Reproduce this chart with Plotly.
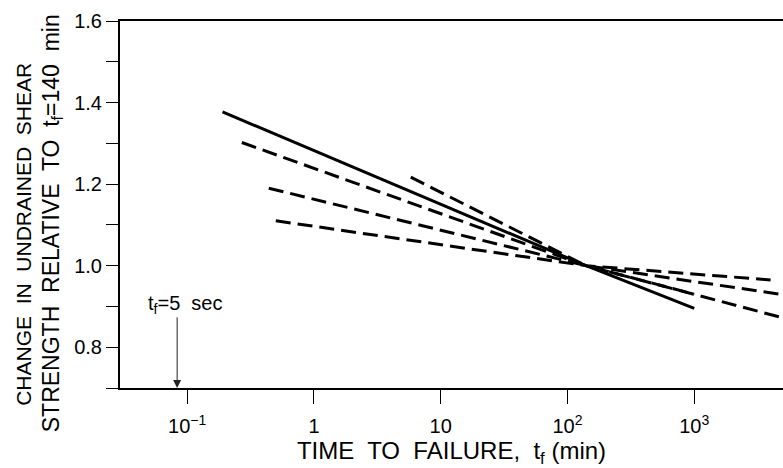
import math
import plotly.graph_objects as go

# ---- data (time to failure in minutes, normalized strength) ----
solid_x = [0.19, 140, 1000]
solid_y = [1.377, 1.0, 0.895]

dash1_x = [0.27, 140, 5000]
dash1_y = [1.302, 1.0, 0.872]

dash2_x = [0.44, 140, 5000]
dash2_y = [1.19, 1.0, 0.929]

dash3_x = [0.5, 140, 4000]
dash3_y = [1.11, 1.0, 0.965]

dash4_x = [5.8, 140, 1000]
dash4_y = [1.217, 1.0, 0.93]

x_tickvals = [0.1, 1, 10, 100, 1000]
x_ticktext = ["10<sup>\u22121</sup>", "1", "10", "10<sup>2</sup>", "10<sup>3</sup>"]
y_tickvals = [0.7, 0.8, 0.9, 1.0, 1.1, 1.2, 1.3, 1.4, 1.5, 1.6]
y_ticktext = ["", "0.8", "", "1.0", "", "1.2", "", "1.4", "", "1.6"]

T_MARK = 5 / 60  # 5 sec in minutes

FONT = "Liberation Sans Narrow, Liberation Sans, Arial, sans-serif"
NB = "\u00a0"

fig = go.Figure()
fig.add_trace(go.Scatter(x=solid_x, y=solid_y, mode="lines",
                         line=dict(color="black", width=3), showlegend=False))
for xs, ys in [(dash1_x, dash1_y), (dash2_x, dash2_y), (dash3_x, dash3_y), (dash4_x, dash4_y)]:
    fig.add_trace(go.Scatter(x=xs, y=ys, mode="lines",
                             line=dict(color="black", width=3, dash="15px,7px"),
                             showlegend=False))

fig.update_layout(
    width=783, height=468,
    margin=dict(l=120, r=0, t=21, b=80),
    paper_bgcolor="white", plot_bgcolor="white",
    font=dict(family=FONT, color="black", size=19),
    xaxis=dict(
        type="log", range=[-1.53, 3.70],
        tickvals=x_tickvals, ticktext=x_ticktext,
        ticks="outside", ticklen=14, tickwidth=1, tickcolor="black",
        showline=True, linecolor="black", linewidth=2, mirror=True,
        showgrid=False, zeroline=False,
        tickfont=dict(size=20, family=FONT),
        ticklabelstandoff=5,
        title=dict(text="TIME" + NB + " TO" + NB + " FAILURE," + NB + " t<sub>f</sub>" + NB + "(min)",
                   font=dict(size=24, family=FONT), standoff=4),
    ),
    yaxis=dict(
        range=[0.7, 1.6],
        tickvals=y_tickvals, ticktext=y_ticktext,
        ticks="outside", ticklen=12, tickwidth=1, tickcolor="black",
        showline=True, linecolor="black", linewidth=2, mirror=False,
        showgrid=False, zeroline=False,
        tickfont=dict(size=20, family=FONT),
    ),
)

fig.add_annotation(
    xref="paper", yref="paper", x=-0.1448, y=0.42,
    text="CHANGE" + NB + " IN" + NB + " UNDRAINED" + NB + " SHEAR",
    textangle=-90, showarrow=False, xanchor="center", yanchor="middle",
    font=dict(size=21, family=FONT),
)
fig.add_annotation(
    xref="paper", yref="paper", x=-0.102, y=0.45,
    text="STRENGTH" + NB + " RELATIVE" + NB + " TO" + NB + " t<sub>f</sub>=140" + NB + " min",
    textangle=-90, showarrow=False, xanchor="center", yanchor="middle",
    font=dict(size=23, family=FONT),
)

# t_f = 5 sec marker
fig.add_annotation(
    x=math.log10(T_MARK), y=0.7, xref="x", yref="y",
    ax=math.log10(T_MARK), ay=0.877, axref="x", ayref="y",
    text="", showarrow=True, arrowhead=2, arrowsize=1.6, arrowwidth=1,
    arrowcolor="#222",
)
fig.add_annotation(
    x=math.log10(T_MARK), y=0.905, xref="x", yref="y",
    text="t<sub>f</sub>=5" + NB + " sec", showarrow=False,
    xanchor="center", yanchor="middle", xshift=8,
    font=dict(size=20, family=FONT),
)

fig.write_html("out.html")
